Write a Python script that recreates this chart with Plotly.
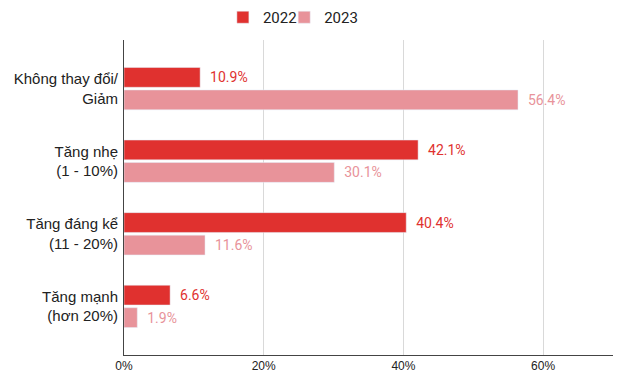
import plotly.graph_objects as go

categories = ["Không thay đổi/<br>Giảm", "Tăng nhẹ<br>(1 - 10%)", "Tăng đáng kể<br>(11 - 20%)", "Tăng mạnh<br>(hơn 20%)"]
v2022 = [10.9, 42.1, 40.4, 6.6]
v2023 = [56.4, 30.1, 11.6, 1.9]
c2022 = "#E0312F"
c2023 = "#E8939A"

fig = go.Figure()
fig.add_trace(go.Bar(y=categories, x=v2022, orientation="h", name="2022", marker_color=c2022,
                     text=[f"  {v}%" for v in v2022], textposition="outside", legend="legend",
                     showlegend=True,
                     textfont=dict(color=c2022, size=14, family="Roboto"), cliponaxis=False))
fig.add_trace(go.Bar(y=categories, x=v2023, orientation="h", name="2023", marker_color=c2023,
                     text=[f"  {v}%" for v in v2023], textposition="outside", legend="legend2",
                     showlegend=True,
                     textfont=dict(color=c2023, size=14, family="Roboto"), cliponaxis=False))

leg_common = dict(orientation="h", xanchor="left", y=0.975, yanchor="middle",
                  xref="container", yref="container", bgcolor="rgba(0,0,0,0)",
                  font=dict(size=15, family="Roboto"))

fig.update_layout(
    width=632, height=379, showlegend=True,
    margin=dict(l=116, r=27, t=32, b=32),
    plot_bgcolor="white", paper_bgcolor="white",
    barmode="group", bargap=0.38, bargroupgap=0.12,
    font=dict(family="Liberation Sans, Arial", color="#222"),
    legend=dict(x=0.340, **leg_common),
    legend2=dict(x=0.437, **leg_common),
    xaxis=dict(range=[0, 70], tickvals=[0, 20, 40, 60], ticktext=["0%", "20%", "40%", "60%"],
               showgrid=True, gridcolor="#d9d9d9", zeroline=False, automargin=False,
               showline=True, linecolor="#444", linewidth=1, tickfont=dict(size=12)),
    yaxis=dict(range=[3.67, -0.67], showline=True, linecolor="#444", linewidth=1,
               tickfont=dict(size=15), ticks="", ticklabelstandoff=2, automargin=False),
)
fig.write_html("out.html")
